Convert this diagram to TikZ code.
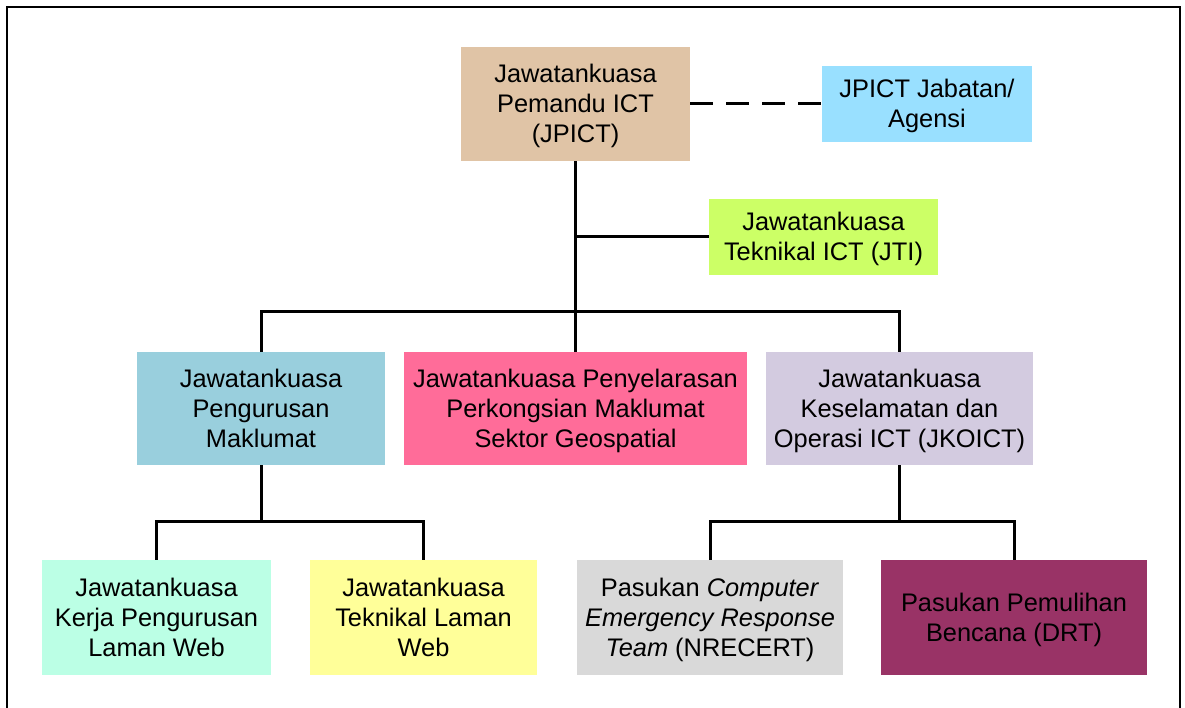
\documentclass[tikz,border=0pt]{standalone}
\usepackage{fontspec}
\setmainfont{Liberation Sans}
\definecolor{ctan}{RGB}{224,196,166}
\definecolor{cltblue}{RGB}{153,224,255}
\definecolor{clime}{RGB}{204,255,102}
\definecolor{cblue}{RGB}{153,207,221}
\definecolor{cpink}{RGB}{255,108,153}
\definecolor{clav}{RGB}{211,203,224}
\definecolor{cmint}{RGB}{187,255,229}
\definecolor{cyell}{RGB}{255,255,153}
\definecolor{cgrey}{RGB}{217,217,217}
\definecolor{cmaroon}{RGB}{153,51,102}
\newcommand{\bxt}[1]{\raisebox{-3pt}[\height][\depth]{\begin{tabular}{@{}c@{}}#1\end{tabular}}}
\tikzset{
  box/.style={draw=none, inner sep=0pt, text=black,
    font=\fontsize{25.4}{30}\selectfont},
  conn/.style={line width=3pt, line join=miter},
  dashconn/.style={line width=3pt, dash pattern=on 23pt off 13pt},
  frame/.style={line width=2.2pt}
}
\begin{document}
\begin{tikzpicture}[x=1pt,y=-1pt]
\useasboundingbox (0,0) rectangle (1185,708);
\fill[white] (0,0) rectangle (1185,708);
\draw[frame] (7,708) -- (7,7) -- (1180,7) -- (1180,708);

\node[box, fill=ctan, minimum width=229pt, minimum height=114pt] (jpict) at (575.5,104)
  {\bxt{Jawatankuasa\\Pemandu ICT\\(JPICT)}};
\node[box, fill=cltblue, minimum width=210pt, minimum height=76pt] (jab) at (927,104)
  {\bxt{JPICT Jabatan/\\Agensi}};
\node[box, fill=clime, minimum width=229pt, minimum height=76pt] (jti) at (823.5,237)
  {\bxt{Jawatankuasa\\Teknikal ICT (JTI)}};

\node[box, fill=cblue, minimum width=248pt, minimum height=113pt] (jpm) at (261,408.5)
  {\bxt{Jawatankuasa\\Pengurusan\\Maklumat}};
\node[box, fill=cpink, minimum width=343pt, minimum height=113pt] (jpp) at (575.5,408.5)
  {\bxt{Jawatankuasa Penyelarasan\\Perkongsian Maklumat\\Sektor Geospatial}};
\node[box, fill=clav, minimum width=267pt, minimum height=113pt] (jko) at (899.5,408.5)
  {\bxt{Jawatankuasa\\Keselamatan dan\\Operasi ICT (JKOICT)}};

\node[box, fill=cmint, minimum width=229pt, minimum height=115pt] (jkp) at (156.5,617.5)
  {\bxt{Jawatankuasa\\Kerja Pengurusan\\Laman Web}};
\node[box, fill=cyell, minimum width=227pt, minimum height=115pt] (jtl) at (423.5,617.5)
  {\bxt{Jawatankuasa\\Teknikal Laman\\Web}};
\node[box, fill=cgrey, minimum width=266pt, minimum height=115pt] (nre) at (710,617.5)
  {\bxt{Pasukan \textit{Computer}\\\textit{Emergency Response}\\\textit{Team} (NRECERT)}};
\node[box, fill=cmaroon, minimum width=266pt, minimum height=115pt] (drt) at (1014,617.5)
  {\bxt{Pasukan Pemulihan\\Bencana (DRT)}};

\coordinate (t1) at (575.5,312);
\coordinate (b1) at (261,521);
\coordinate (b2) at (899.5,521);

\draw[dashconn] (jpict.east) -- (jab.west);
\draw[conn] (jpict.south) -- (t1);
\draw[conn] (jpict.south |- jti.west) -- (jti.west);
\draw[conn] (jpm.north) |- (t1) -| (jko.north);
\draw[conn] (t1) -- (jpp.north);
\draw[conn] (jpm.south) -- (b1);
\draw[conn] (jkp.north) |- (b1) -| (jtl.north);
\draw[conn] (jko.south) -- (b2);
\draw[conn] (nre.north) |- (b2) -| (drt.north);
\end{tikzpicture}
\end{document}
